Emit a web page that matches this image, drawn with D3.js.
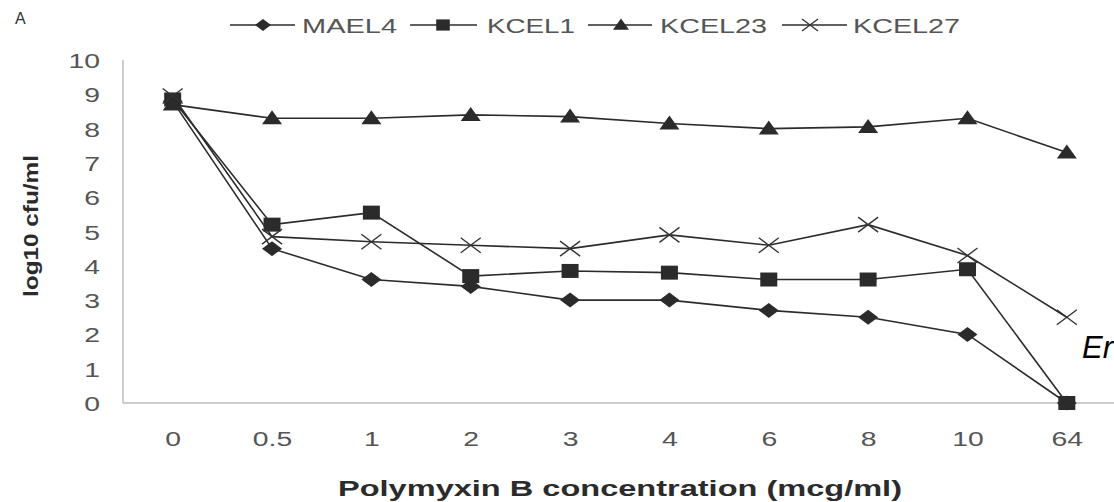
<!DOCTYPE html>
<html>
<head>
<meta charset="utf-8">
<script src="https://cdn.jsdelivr.net/npm/d3@7"></script>
<style>
  html, body { margin: 0; padding: 0; background: #fff; }
  svg { display: block; }
  text { font-family: "Liberation Sans", Arial, sans-serif; }
</style>
</head>
<body>
<svg id="chart" width="1114" height="502"></svg>
<script>
// ---- data ----
const categories = ["0", "0.5", "1", "2", "3", "4", "6", "8", "10", "64"];
const seriesNames = ["MAEL4", "KCEL1", "KCEL23", "KCEL27"];
const mael4  = [8.8, 4.5, 3.6, 3.4, 3.0, 3.0, 2.7, 2.5, 2.0, 0];
const kcel1  = [8.85, 5.2, 5.55, 3.7, 3.85, 3.8, 3.6, 3.6, 3.9, 0];
const kcel23 = [8.7, 8.3, 8.3, 8.4, 8.35, 8.15, 8.0, 8.05, 8.3, 7.3];
const kcel27 = [8.95, 4.85, 4.7, 4.6, 4.5, 4.9, 4.6, 5.2, 4.3, 2.5];
const yTicks = [0, 1, 2, 3, 4, 5, 6, 7, 8, 9, 10];
const xTitle = "Polymyxin B concentration (mcg/ml)";
const yTitle = "log10 cfu/ml";

const seriesValues = [mael4, kcel1, kcel23, kcel27];
const markerTypes = ["diamond", "square", "triangle", "cross"];

// ---- layout ----
const svg = d3.select("#chart");
const SX = 1.35; // horizontal stretch of the scanned original
const textGrey = "#555";
const lineCol = "#2b2b2b";

const x = d3.scalePoint().domain(categories).range([123, 1116.5]).padding(0.5);
const y = d3.scaleLinear().domain([0, 10]).range([403, 60]);

function markerPath(type, s) {
  const p = d3.path();
  if (type === "diamond") {
    const w = 10 * s, h = 7.5 * s;
    p.moveTo(0, -h); p.lineTo(w, 0); p.lineTo(0, h); p.lineTo(-w, 0); p.closePath();
  } else if (type === "square") {
    const w = 8.5 * s, h = 7 * s;
    p.rect(-w, -h, 2 * w, 2 * h);
  } else if (type === "triangle") {
    const w = 10 * s, h = 7 * s;
    p.moveTo(0, -h - 1 * s); p.lineTo(w, h - 1 * s); p.lineTo(-w, h - 1 * s); p.closePath();
  } else {
    const w = 10 * s, h = 7.5 * s;
    p.moveTo(-w, -h); p.lineTo(w, h); p.moveTo(-w, h); p.lineTo(w, -h);
  }
  return p.toString();
}
function drawMarker(g, type, cx, cy, s) {
  const isCross = type === "cross";
  g.append("path")
    .attr("d", markerPath(type, s))
    .attr("transform", `translate(${cx},${cy})`)
    .attr("fill", isCross ? "none" : lineCol)
    .attr("stroke", isCross ? "#333" : "none")
    .attr("stroke-width", isCross ? 1.4 : 0);
}

// ---- axes ----
const yAxis = d3.axisLeft(y).tickValues(yTicks).tickSize(0).tickPadding(0).tickFormat(d3.format("d"));
const gy = svg.append("g").attr("transform", "translate(123,0)").call(yAxis);
gy.select(".domain").remove();
gy.selectAll("text").remove();
gy.selectAll(".tick").each(function(d) {
  d3.select(this).append("text")
    .attr("transform", `translate(-23,0) scale(${SX},1)`)
    .attr("dy", "0.36em")
    .attr("text-anchor", "end")
    .attr("fill", textGrey)
    .attr("font-size", 21)
    .text(d);
});
svg.append("line").attr("x1", 123).attr("x2", 123).attr("y1", 60).attr("y2", 403)
  .attr("stroke", "#bdbdbd").attr("stroke-width", 1.5);

const xAxis = d3.axisBottom(x).tickSize(0).tickPadding(0);
const gx = svg.append("g").attr("transform", "translate(0,403)").call(xAxis);
gx.select(".domain").remove();
gx.selectAll("text").remove();
gx.selectAll(".tick").each(function(d) {
  d3.select(this).append("text")
    .attr("transform", `translate(0,43) scale(${SX},1)`)
    .attr("text-anchor", "middle")
    .attr("fill", textGrey)
    .attr("font-size", 21)
    .text(d);
});
svg.append("line").attr("x1", 123).attr("x2", 1114).attr("y1", 403).attr("y2", 403)
  .attr("stroke", "#bdbdbd").attr("stroke-width", 1.5);

// ---- series ----
const line = d3.line().x((d, i) => x(categories[i])).y(d => y(d));
seriesValues.forEach((vals) => {
  svg.append("path").datum(vals)
    .attr("d", line)
    .attr("fill", "none")
    .attr("stroke", lineCol)
    .attr("stroke-width", 1.6);
});
seriesValues.forEach((vals, si) => {
  const g = svg.append("g");
  vals.forEach((v, i) => drawMarker(g, markerTypes[si], x(categories[i]), y(v), 1));
});

// ---- legend ----
const legendItems = [
  { x1: 230, x2: 295, mx: 263, tx: 302, w: 95 },
  { x1: 410, x2: 477, mx: 443, tx: 487, w: 88 },
  { x1: 588, x2: 652, mx: 621, tx: 660, w: 107 },
  { x1: 782, x2: 847, mx: 810, tx: 853, w: 107 }
];
const ly = 25;
const lg = svg.append("g");
seriesNames.forEach((name, i) => {
  const it = legendItems[i];
  lg.append("line").attr("x1", it.x1).attr("x2", it.x2).attr("y1", ly).attr("y2", ly)
    .attr("stroke", lineCol).attr("stroke-width", 1.6);
  drawMarker(lg, markerTypes[i], it.mx, ly, 0.8);
  lg.append("text")
    .attr("x", it.tx).attr("y", ly).attr("dy", "0.36em")
    .attr("textLength", it.w).attr("lengthAdjust", "spacingAndGlyphs")
    .attr("fill", textGrey).attr("font-size", 21)
    .text(name);
});

// ---- titles ----
svg.append("text")
  .attr("x", 338).attr("y", 496)
  .attr("textLength", 564).attr("lengthAdjust", "spacingAndGlyphs")
  .attr("font-weight", "bold").attr("font-size", 22).attr("fill", "#2b2b2b")
  .text(xTitle);

svg.append("text")
  .attr("transform", "translate(38,297) rotate(-90)")
  .attr("textLength", 142).attr("lengthAdjust", "spacingAndGlyphs")
  .attr("font-weight", "bold").attr("font-size", 21).attr("fill", "#2b2b2b")
  .text(yTitle);

svg.append("text")
  .attr("x", 15).attr("y", 24)
  .attr("font-size", 16).attr("fill", "#333")
  .text("A");

svg.append("text")
  .attr("x", 1082).attr("y", 358)
  .attr("font-size", 31).attr("font-style", "italic").attr("fill", "#000")
  .text("Er");
</script>
</body>
</html>
